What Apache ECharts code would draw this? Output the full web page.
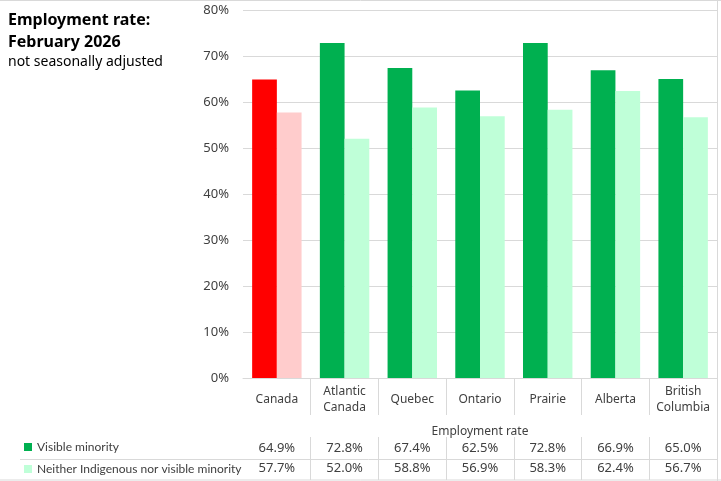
<!DOCTYPE html>
<html>
<head>
<meta charset="utf-8">
<script src="https://cdn.jsdelivr.net/npm/echarts@6/dist/echarts.min.js"></script>
<style>html,body{margin:0;padding:0;background:#fff}#c{width:721px;height:481px}</style>
</head>
<body>
<div id="c"></div>
<script>
const categories = ['Canada', 'Atlantic Canada', 'Quebec', 'Ontario', 'Prairie', 'Alberta', 'British Columbia'];
const seriesNames = ['Visible minority', 'Neither Indigenous nor visible minority'];
const visibleMinority = [64.9, 72.8, 67.4, 62.5, 72.8, 66.9, 65.0];
const neither = [57.7, 52.0, 58.8, 56.9, 58.3, 62.4, 56.7];
const yTicks = [0, 10, 20, 30, 40, 50, 60, 70, 80];

const FONT = 'Noto Sans';
const TXT = '#404040';
const LINE = '#D9D9D9';
const fmt = v => v.toFixed(1) + '%';

const chart = echarts.init(document.getElementById('c'), null, {renderer: 'canvas'});
const hideFirst = (i) => i !== 0;
const legendBase = {
  orient: 'horizontal', left: 24, itemWidth: 8, itemHeight: 8, icon: 'rect', padding: 0,
  textStyle: {fontFamily: 'Lato', fontSize: 12, color: TXT}
};

chart.setOption({
  animation: false,
  textStyle: {fontFamily: FONT},
  title: {
    text: 'Employment rate:\nFebruary 2026',
    subtext: 'not seasonally adjusted',
    left: 3, top: 4, itemGap: 2,
    textStyle: {fontFamily: FONT, fontSize: 16, fontWeight: 'bold', color: '#000', lineHeight: 22},
    subtextStyle: {fontFamily: FONT, fontSize: 14, color: '#000'}
  },
  legend: [
    Object.assign({}, legendBase, {top: 441, data: [seriesNames[0]]}),
    Object.assign({}, legendBase, {top: 463, data: [seriesNames[1]]})
  ],
  grid: {left: 243, right: 4, top: 10, bottom: 103, containLabel: false},
  yAxis: {
    type: 'value', min: yTicks[0], max: yTicks[yTicks.length - 1], interval: 10,
    axisLine: {show: false}, axisTick: {show: false},
    axisLabel: {formatter: v => v + '%', color: TXT, fontSize: 13, margin: 14, fontFamily: FONT},
    splitLine: {lineStyle: {color: LINE, width: 1}}
  },
  xAxis: [
    {
      type: 'category', data: categories, position: 'bottom',
      axisLine: {lineStyle: {color: LINE}},
      axisTick: {show: true, length: 37, interval: hideFirst, lineStyle: {color: LINE}},
      axisLabel: {
        interval: 0, color: TXT, fontSize: 12, margin: 6, fontFamily: FONT, lineHeight: 16,
        formatter: v => v.indexOf(' ') >= 0 ? v.replace(' ', '\n') : '{s|' + v + '}',
        rich: {s: {fontSize: 12, color: TXT, fontFamily: FONT, padding: [16, 0, 0, 0], lineHeight: 16}}
      },
      name: 'Employment rate', nameLocation: 'middle', nameGap: 48,
      nameTextStyle: {color: TXT, fontSize: 12, fontFamily: FONT}
    },
    {
      type: 'category', data: visibleMinority.map(fmt), position: 'bottom', offset: 59,
      axisLine: {show: false},
      axisTick: {show: true, length: 43, interval: hideFirst, lineStyle: {color: LINE}},
      axisLabel: {interval: 0, color: TXT, fontSize: 13, margin: 5, fontFamily: FONT}
    },
    {
      type: 'category', data: neither.map(fmt), position: 'bottom', offset: 81,
      axisLine: {show: false}, axisTick: {show: false},
      axisLabel: {interval: 0, color: TXT, fontSize: 13, margin: 3, fontFamily: FONT}
    }
  ],
  series: [
    {
      name: seriesNames[0], type: 'bar', xAxisIndex: 0, barGap: '0%', barCategoryGap: '27%',
      itemStyle: {color: '#00B050'},
      data: visibleMinority.map((v, i) => i === 0 ? {value: v, itemStyle: {color: '#FF0000'}} : v)
    },
    {
      name: seriesNames[1], type: 'bar', xAxisIndex: 0, barGap: '0%', barCategoryGap: '27%',
      itemStyle: {color: '#BFFFD8'},
      data: neither.map((v, i) => i === 0 ? {value: v, itemStyle: {color: '#FFCCCC'}} : v)
    }
  ],
  graphic: [
    {type: 'line', shape: {x1: 20, y1: 459.5, x2: 717, y2: 459.5}, style: {stroke: LINE, lineWidth: 1}, silent: true},
    {type: 'line', shape: {x1: 0, y1: 480, x2: 721, y2: 480}, style: {stroke: LINE, lineWidth: 1}, silent: true},
    {type: 'line', shape: {x1: 0, y1: 0.5, x2: 721, y2: 0.5}, style: {stroke: LINE, lineWidth: 1}, silent: true},
    {type: 'line', shape: {x1: 717.5, y1: 0, x2: 717.5, y2: 481}, style: {stroke: LINE, lineWidth: 1}, silent: true}
  ]
});
</script>
</body>
</html>
